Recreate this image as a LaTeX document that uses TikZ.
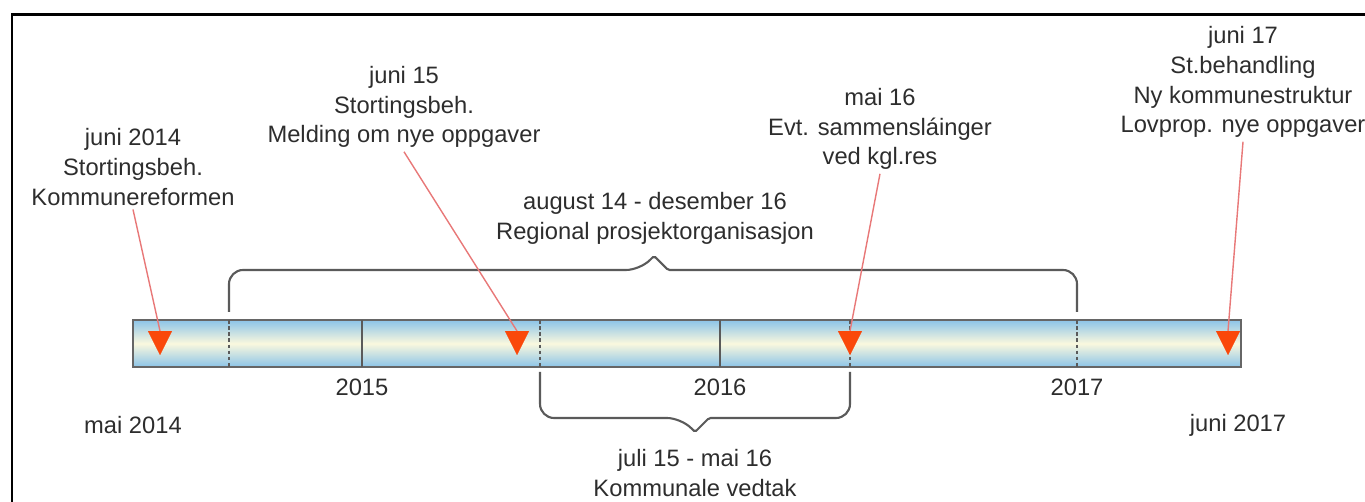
\documentclass[tikz,border=0pt]{standalone}
\usepackage{fontspec}
\setmainfont{Liberation Sans}
\usetikzlibrary{arrows.meta}
\definecolor{txtgray}{RGB}{45,45,45}
\definecolor{linegray}{RGB}{90,90,90}
\definecolor{barblue}{RGB}{140,196,232}
\definecolor{barcream}{RGB}{250,248,222}
\definecolor{tipred}{RGB}{250,72,10}
\definecolor{pinkline}{RGB}{232,120,120}
\begin{document}
\begin{tikzpicture}[x=0.02cm,y=-0.02cm]
      \tikzset{every node/.style={font=\fontsize{13.5}{17}\selectfont,text=txtgray,align=center,inner sep=2pt},
        brace/.style={draw=linegray,line width=1.2pt,rounded corners=8pt},
        yearline/.style={draw=linegray,line width=1pt},
        dashline/.style={draw=linegray,line width=1pt,dash pattern=on 2pt off 1.5pt},
        pin/.style={draw=pinkline,line width=0.8pt},
        pinhead/.style={draw=tipred,line width=0.1pt,-{Triangle[width=0.48cm,length=0.48cm,fill=tipred]}}}
      \clip (0,0) rectangle (1365,502);
      %% frame (cut at right and bottom)
      \draw[line width=1.7pt] (12,520) -- (12,15) -- (1380,15);
      %% timeline bar
      \shade[top color=barblue,bottom color=barblue,middle color=barcream,draw=gray!80!black,line width=0.8pt]
        (133,320) rectangle (1241,367);
      \draw[yearline] (362,320) -- (362,367);
      \draw[yearline] (720,320) -- (720,367);
      \draw[dashline] (229,320) -- (229,367);
      \draw[dashline] (540,320) -- (540,367);
      \draw[dashline] (850,320) -- (850,367);
      \draw[dashline] (1077,320) -- (1077,367);
      % years
      \node (y15) at (362,387) {2015};
      \node (y16) at (720,387) {2016};
      \node (y17) at (1077,387) {2017};
      \node (mai14) at (133,425) {mai 2014};
      \node (jun17) at (1238,425) {juni 2017};
      %% regional project (upper brace)
      \draw[brace] (229,312) -- (229,270) -- (640,270) [rounded corners=1pt] -- (654,256) -- (668,270)
        [rounded corners=8pt] -- (1077,270) -- (1077,312);
      \node (aug14) at (655,218) {august 14 - desember 16\\Regional prosjektorganisasjon};
      %% municipal decisions (lower brace)
      \draw[brace] (540,372) -- (540,418) -- (681,418) [rounded corners=1pt] -- (695,432) -- (709,418)
        [rounded corners=8pt] -- (850,418) -- (850,372);
      \node (jul15) at (695,473) {juli 15 - mai 16\\Kommunale vedtak};
      %% events with arrows
      \node (j14) at (133,167) {juni 2014\\Stortingsbeh.\\Kommunereformen};
      \node (j15) at (404,107) {juni 15\\Stortingsbeh.\\Melding om nye oppgaver};
      \node (m16) at (880,129) {mai 16\\Evt. sammensláinger\\ved kgl.res};
      \node (j17) at (1243,82) {juni 17\\St.behandling\\Ny kommunestruktur\\Lovprop. nye oppgaver};
      \coordinate (h1) at (160,331); \coordinate (p1) at (160,355);
      \coordinate (h2) at (517,331); \coordinate (p2) at (517,355);
      \coordinate (h3) at (850,331); \coordinate (p3) at (850,355);
      \coordinate (h4) at (1228,331); \coordinate (p4) at (1228,355);
      \draw[pin] (j14.south) -- (h1);
      \draw[pin] (j15.south) -- (h2);
      \draw[pin] (m16.south) -- (h3);
      \draw[pin] (j17.south) -- (h4);
      \draw[pinhead] (h1) -- (p1);
      \draw[pinhead] (h2) -- (p2);
      \draw[pinhead] (h3) -- (p3);
      \draw[pinhead] (h4) -- (p4);
\end{tikzpicture}
\end{document}
